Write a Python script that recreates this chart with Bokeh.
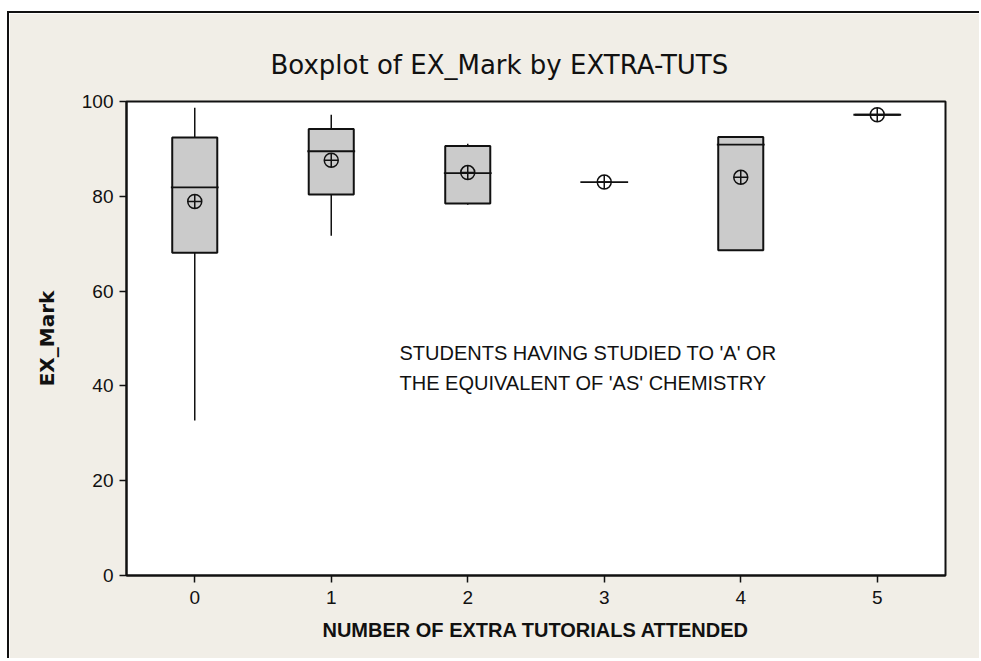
from bokeh.plotting import figure
from bokeh.layouts import column
from bokeh.models import Range1d, ColumnDataSource, Label, FixedTicker
from bokeh.transform import dodge
from bokeh.embed import file_html
from bokeh.resources import INLINE

# ---- data ----
groups = [0, 1, 2, 3, 4, 5]
q1 = [68.1, 80.4, 78.5, 83.0, 68.6, 97.2]
median = [81.9, 89.5, 84.9, 83.0, 90.9, 97.2]
q3 = [92.4, 94.2, 90.6, 83.0, 92.5, 97.2]
whisk_lo = [32.7, 71.7, 78.2, 83.0, 68.6, 97.2]
whisk_hi = [98.7, 97.2, 91.1, 83.0, 92.6, 97.2]
mean = [78.9, 87.6, 85.0, 83.0, 84.0, 97.2]
has_box = [True, True, True, False, True, True]
y_ticks = [0, 20, 40, 60, 80, 100]

BOX_W = 0.33
BEIGE = "#F1EEE7"

src = ColumnDataSource(dict(x=groups, q1=q1, med=median, q3=q3,
                            lo=whisk_lo, hi=whisk_hi, mean=mean))
box_src = ColumnDataSource(dict(
    x=[g for g, b in zip(groups, has_box) if b],
    q1=[v for v, b in zip(q1, has_box) if b],
    q3=[v for v, b in zip(q3, has_box) if b]))

p = figure(width=970, height=645, output_backend="svg", toolbar_location=None,
           x_range=Range1d(-0.5, 5.5), y_range=Range1d(0, 100),
           min_border_left=117, min_border_right=34, min_border_top=88,
           min_border_bottom=83)

p.background_fill_color = "white"
p.border_fill_color = BEIGE
p.outline_line_color = "#111"
p.outline_line_width = 2
p.grid.visible = False

# title
p.title.text = "Boxplot of EX_Mark by EXTRA-TUTS"
p.title.align = "left"
p.title.offset = 144
p.title.text_font = "DejaVu Sans"
p.title.text_font_size = "26px"
p.title.text_font_style = "normal"
p.title.text_color = "#111"
p.title.standoff = 43

# axes
for ax in (p.xaxis[0], p.yaxis[0]):
    ax.major_tick_out = 7
    ax.major_tick_in = 0
    ax.minor_tick_out = 0
    ax.minor_tick_in = 0
    ax.major_tick_line_color = "#111"
    ax.major_tick_line_width = 1.5
    ax.axis_line_color = "#111"
    ax.axis_line_width = 2
    ax.major_label_text_font = "Liberation Sans"
    ax.major_label_text_font_size = "19px"
    ax.major_label_text_color = "#111"
    ax.axis_label_text_font_style = "bold"
    ax.axis_label_text_color = "#111"

p.xaxis.ticker = FixedTicker(ticks=groups)
p.yaxis.ticker = FixedTicker(ticks=y_ticks)
p.xaxis.axis_label = "NUMBER OF EXTRA TUTORIALS ATTENDED"
p.xaxis.axis_label_text_font = "Liberation Sans"
p.xaxis.axis_label_text_font_size = "20px"
p.xaxis.axis_label_standoff = 12
p.xaxis.major_label_standoff = 8
p.yaxis.axis_label = "EX_Mark"
p.yaxis.axis_label_text_font = "DejaVu Sans"
p.yaxis.axis_label_text_font_size = "20px"
p.yaxis.axis_label_standoff = 20
p.yaxis.major_label_standoff = 6

# whiskers
p.segment(x0="x", y0="q3", x1="x", y1="hi", source=src, line_color="#111", line_width=1.5)
p.segment(x0="x", y0="q1", x1="x", y1="lo", source=src, line_color="#111", line_width=1.5)

# boxes
p.vbar(x="x", bottom="q1", top="q3", width=BOX_W, source=box_src,
       fill_color="#CBCBCB", line_color="#111", line_width=2)

# medians
p.segment(x0=dodge("x", -BOX_W / 2 - 0.01), y0="med", x1=dodge("x", BOX_W / 2 + 0.01), y1="med",
          source=src, line_color="#111", line_width=1.8)

# means
p.scatter(x="x", y="mean", source=src, marker="circle_cross", size=14,
          fill_color=None, line_color="#111", line_width=1.5)

# annotation text
for yv, txt in [(47.0, "STUDENTS HAVING STUDIED TO 'A' OR"),
                (40.7, "THE EQUIVALENT OF 'AS' CHEMISTRY")]:
    p.add_layout(Label(x=1.5, y=yv, text=txt, text_font="Liberation Sans",
                       text_font_size="20px", text_baseline="middle",
                       text_align="left", text_color="#111"))

layout = column(p, styles={"margin-left": "7px", "margin-top": "11px",
                           "border-top": "2px solid #111",
                           "border-left": "2px solid #111"})

open("out.html", "w").write(file_html(layout, INLINE))
